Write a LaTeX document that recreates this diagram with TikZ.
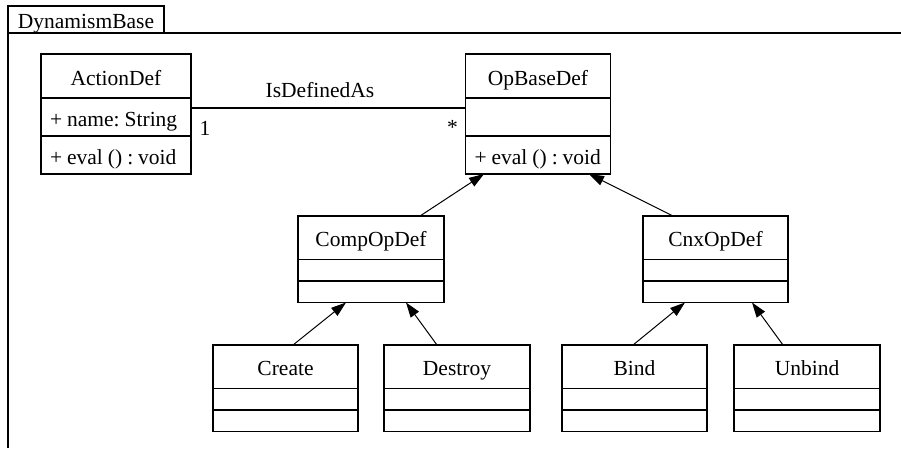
\documentclass[tikz,border=0pt]{standalone}
\usepackage{fontspec}
\setmainfont{Liberation Serif}
\usetikzlibrary{positioning, arrows.meta}

\tikzset{
  umlhead/.style={draw, anchor=north west, minimum width=146pt, minimum height=43.5pt, inner sep=0pt, outer sep=0pt, text height=18pt, text depth=0pt},
  umlrow/.style={draw, minimum width=146pt, minimum height=21.5pt, inner sep=0pt, outer sep=0pt},
  umlfeat/.style={draw, minimum height=38pt, inner xsep=9pt, inner ysep=0pt, outer sep=0pt, align=left, text height=18pt, text depth=0pt, execute at begin node={\spaceskip=5pt\relax}},
  inherit/.style={line width=1pt, -{Triangle[length=15pt,width=10pt]}},
}

\begin{document}
\begin{tikzpicture}[x=1pt, y=-1pt, line width=1.2pt, font=\fontsize{21.5pt}{26pt}\selectfont\frenchspacing]
	\useasboundingbox (0,0) rectangle (901,448);
	% package frame
	\node[draw, anchor=north west, minimum width=156pt, minimum height=27pt, inner sep=0pt, outer sep=0pt, text height=18pt, text depth=0pt] (pkg) at (8,6) {DynamismBase};
	\draw (901,33) -| (8,448);

	% top classes
	\node[umlhead, minimum width=150pt, minimum height=44pt] (action) at (41,54) {ActionDef};
	\node[umlfeat, text width=132pt, below=0pt of action] (action-attr) {\mbox{+ name: String}};
	\node[umlfeat, text width=132pt, below=0pt of action-attr] (action-ops) {\mbox{+ eval () : void}};

	\node[umlhead, minimum width=145pt, minimum height=44pt] (opbase) at (465.5,54) {OpBaseDef};
	\node[umlfeat, text width=127pt, below=0pt of opbase] (opbase-attr) {};
	\node[umlfeat, text width=127pt, below=0pt of opbase-attr] (opbase-ops) {\mbox{+ eval () : void}};

	% middle classes
	\node[umlhead] (comp) at (298,216) {CompOpDef};
	\node[umlrow, below=0pt of comp] (comp-attr) {};
	\node[umlrow, below=0pt of comp-attr] (comp-ops) {};

	\node[umlhead, minimum width=145pt] (cnx) at (643,216) {CnxOpDef};
	\node[umlrow, minimum width=145pt, below=0pt of cnx] (cnx-attr) {};
	\node[umlrow, minimum width=145pt, below=0pt of cnx-attr] (cnx-ops) {};

	% bottom classes
	\node[umlhead, minimum width=145pt] (create) at (213,345) {Create};
	\node[umlrow, minimum width=145pt, below=0pt of create] (create-attr) {};
	\node[umlrow, minimum width=145pt, below=0pt of create-attr] (create-ops) {};

	\node[umlhead] (destroy) at (384,345) {Destroy};
	\node[umlrow, below=0pt of destroy] (destroy-attr) {};
	\node[umlrow, below=0pt of destroy-attr] (destroy-ops) {};

	\node[umlhead, minimum width=145pt] (bind) at (562,345) {Bind};
	\node[umlrow, minimum width=145pt, below=0pt of bind] (bind-attr) {};
	\node[umlrow, minimum width=145pt, below=0pt of bind-attr] (bind-ops) {};

	\node[umlhead] (unbind) at (734,345) {Unbind};
	\node[umlrow, below=0pt of unbind] (unbind-attr) {};
	\node[umlrow, below=0pt of unbind-attr] (unbind-ops) {};

	% association
	\draw ([yshift=-10pt]action-attr.north east) -- ([yshift=-10pt]opbase-attr.north west)
		node[pos=0.47, above, inner sep=10pt] {IsDefinedAs}
		node[pos=0, below right, inner xsep=8pt, inner ysep=13pt] {1}
		node[pos=1, below left, inner xsep=7pt, inner ysep=12pt] {*};

	% generalisations
	\draw[inherit] ([xshift=49pt]comp.north) -- ([xshift=-54pt]opbase-ops.south);
	\draw[inherit] ([xshift=-42.5pt]cnx.north) -- ([xshift=51pt]opbase-ops.south);
	\draw[inherit] ([xshift=7.5pt]create.north) -- ([xshift=-25pt]comp-ops.south);
	\draw[inherit] ([xshift=-20pt]destroy.north) -- ([xshift=35pt]comp-ops.south);
	\draw[inherit] ([xshift=-1.5pt]bind.north) -- ([xshift=-30.5pt]cnx-ops.south);
	\draw[inherit] ([xshift=-24pt]unbind.north) -- ([xshift=36.5pt]cnx-ops.south);
\end{tikzpicture}
\end{document}
